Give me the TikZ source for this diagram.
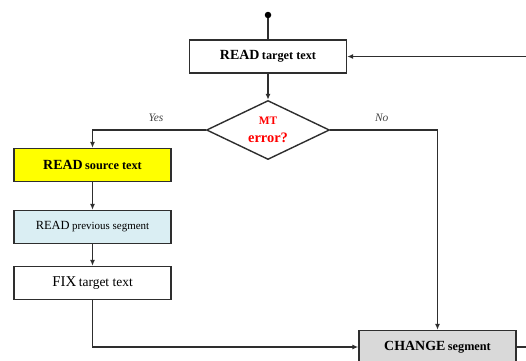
\documentclass[tikz,border=0pt]{standalone}
\usepackage{fontspec}
\setmainfont{Liberation Serif}
\usepackage{xcolor}
\usetikzlibrary{shapes.geometric}
\usetikzlibrary{arrows.meta}
\definecolor{lineColor}{HTML}{2E2E2E}
\definecolor{boxBgColorA}{HTML}{FFFFFF}
\definecolor{boxBgColorB}{HTML}{FFFF00}
\definecolor{boxBgColorC}{HTML}{DAEEF3}
\definecolor{boxBgColorD}{HTML}{D9D9D9}
\definecolor{askTextColor}{HTML}{FF0000}
\definecolor{tagTextColor}{HTML}{444444}
\def\textA{\bfseries{\fontsize{14}{14}\selectfont READ} {\fontsize{12.3}{14}\selectfont target text}}
\def\textB{\bfseries{\fontsize{14}{14}\selectfont READ} {\fontsize{12.3}{14}\selectfont source text}}
\def\textC{{\fontsize{12.5}{14}\selectfont READ} {\fontsize{11}{14}\selectfont previous segment}}
\def\textD{{\fontsize{15}{14}\selectfont FIX} {\fontsize{13.5}{14}\selectfont target text}}
\def\textE{\bfseries{\fontsize{14}{14}\selectfont CHANGE} {\fontsize{12.3}{14}\selectfont segment}}
\tikzset{
  flowbox/.style={draw=lineColor, line width=1.4bp, rectangle, inner sep=0pt,
    minimum width=157bp, minimum height=33bp, text=black},
  askbox/.style={draw=lineColor, line width=1.4bp, diamond, aspect=2.1, inner sep=0pt,
    minimum width=123bp, minimum height=59bp, align=center, text=askTextColor},
  link/.style={draw=lineColor, line width=1.4bp},
  arrowlink/.style={link, -{Latex[length=6bp, width=5bp]}},
  tag/.style={font=\itshape\fontsize{11.5}{13}\selectfont, text=tagTextColor}
}

\begin{document}
\begin{tikzpicture}[x=1bp,y=-1bp]

% frame of the page
\useasboundingbox (0, 0) rectangle (526, 360);
\clip (0, 0) rectangle (526, 360);

% box layer
\begin{scope}
\node[flowbox, fill=boxBgColorA] (readTarget) at (268, 56.5) {\textA};
\node[askbox, fill=white] (mtError) at (268, 130) {{\bfseries\fontsize{11.5}{13}\selectfont MT}\\[6bp]{\bfseries\fontsize{14.5}{14}\selectfont error?}};
\node[flowbox, fill=boxBgColorB] (readSource) at (92.5, 165) {\textB};
\node[flowbox, fill=boxBgColorC] (readPrev) at (92.5, 227) {\textC};
\node[flowbox, fill=boxBgColorA] (fixTarget) at (92.5, 283) {\textD};
\node[flowbox, fill=boxBgColorD] (changeSeg) at (437.5, 347) {\textE};
\end{scope}

% dot
\begin{scope}
\node[circle, inner sep=0pt, minimum size=6.5bp, fill=black] (start) at (268, 15) {};
\coordinate (loopBack) at (545, 200);
\end{scope}

% link layer
\begin{scope}
\draw[link] (start) -- (readTarget.north);
\draw[arrowlink] (readTarget.south) -- (mtError.north);
\draw[arrowlink] (mtError.west) -| (readSource.north)
node[pos=0.22, above=4bp, tag] {Yes};
\draw[arrowlink] (mtError.east) -| (changeSeg.north)
node[pos=0.24, above=4bp, tag] {No};
\draw[arrowlink] (readSource.south) -- (readPrev.north);
\draw[arrowlink] (readPrev.south) -- (fixTarget.north);
\draw[arrowlink] (fixTarget.south) |- (changeSeg.west);
\draw[arrowlink] (changeSeg.east) -| (loopBack) |- (readTarget.east);
\end{scope}

\end{tikzpicture}
\end{document}
